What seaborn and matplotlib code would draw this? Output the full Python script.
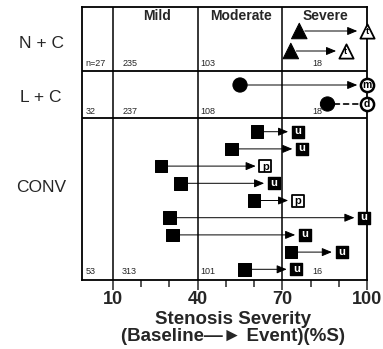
import numpy as np
import pandas as pd
import seaborn as sns
import matplotlib.pyplot as plt

# lesion progression per patient: baseline stenosis -> stenosis at event (%S)
group = ['N + C', 'N + C', 'L + C', 'L + C'] + ['CONV'] * 9
baseline = [76, 73, 55, 86, 61, 52, 27, 34, 60, 30, 31, 73, 56.5]
event = [100, 92.5, 100, 100, 75.5, 77, 64, 67, 75.5, 99, 78, 91, 75]
outcome = ['t', 't', 'm', 'd', 'u', 'u', 'p', 'u', 'p', 'u', 'u', 'u', 'u']

# lesion counts per severity band
count_groups = ['N + C', 'L + C', 'CONV']
n_patients = ['n=27', '32', '53']
n_mild = [235, 237, 313]
n_moderate = [103, 108, 101]
n_severe = [18, 18, 16]

severity_labels = ['Mild', 'Moderate', 'Severe']

# layout (vertical positions, top-down)
band_edges = [7, 71, 118, 280]
row_y = [31, 51, 85, 104] + [131.7 + 17.2 * i for i in range(9)]
label_y = [43, 98, 187]
count_y = [63, 112, 272]

df = pd.DataFrame({'group': group, 'baseline': baseline, 'event': event,
                   'outcome': outcome, 'y': row_y})

sns.set_style('white')
plt.rcParams['font.family'] = ['Liberation Sans', 'DejaVu Sans']

fig = plt.figure(figsize=(3.83, 3.49), dpi=100)
ax = fig.add_axes([82 / 383, 1 - 280 / 349, (367 - 82) / 383, (280 - 7) / 349])

marker_map = {'N + C': '^', 'L + C': 'o', 'CONV': 's'}
size_map = {'N + C': 125, 'L + C': 105, 'CONV': 82}

# arrows baseline -> event
for _, r in df.iterrows():
    if r.outcome == 'd':
        ax.annotate('', xy=(r.event, r.y), xytext=(r.baseline, r.y),
                    arrowprops=dict(arrowstyle='-', color='black', lw=1.2,
                                    linestyle=(0, (3, 2.5)), shrinkA=5, shrinkB=5),
                    annotation_clip=False)
    else:
        ax.annotate('', xy=(r.event, r.y), xytext=(r.baseline, r.y),
                    arrowprops=dict(arrowstyle='-|>,head_length=0.6,head_width=0.25',
                                    color='black', lw=0.7, shrinkA=4, shrinkB=7),
                    annotation_clip=False)

# baseline markers
sns.scatterplot(data=df, x='baseline', y='y', style='group', markers=marker_map,
                size='group', sizes=size_map, color='black', edgecolor='black',
                legend=False, ax=ax, zorder=5, clip_on=False)

# event markers with outcome letters
for _, r in df.iterrows():
    if r.group == 'CONV':
        if r.outcome == 'p':
            ax.scatter(r.event, r.y, marker='s', s=72, facecolor='white',
                       edgecolor='black', linewidth=1.3, zorder=6, clip_on=False)
            ax.text(r.event, r.y + 0.5, r.outcome, ha='center', va='center',
                    fontsize=8, fontweight='bold', color='black', zorder=7)
        else:
            ax.scatter(r.event, r.y, marker='s', s=78, color='black',
                       zorder=6, clip_on=False)
            ax.text(r.event, r.y - 0.5, r.outcome, ha='center', va='center',
                    fontsize=8, fontweight='bold', color='white', zorder=7)
    elif r.group == 'L + C':
        ax.scatter(r.event, r.y, marker='o', s=90, facecolor='white',
                   edgecolor='black', linewidth=1.8, zorder=6, clip_on=False)
        ax.text(r.event, r.y, r.outcome, ha='center', va='center',
                fontsize=7.5, fontweight='bold', color='black', zorder=7)
    else:
        ax.scatter(r.event, r.y, marker='^', s=105, facecolor='white',
                   edgecolor='black', linewidth=1.3, zorder=6, clip_on=False)
        ax.text(r.event, r.y + 1, r.outcome, ha='center', va='center',
                fontsize=6.5, fontweight='bold', color='black', zorder=7)

# grid of severity bands
for xv in [10, 40, 70]:
    ax.axvline(xv, color='black', lw=1.1, zorder=1)
for yv in band_edges[1:-1]:
    ax.axhline(yv, color='black', lw=1.3, zorder=1)

# header
for lab, xc in zip(severity_labels, [25.6, 55.5, 85.4]):
    ax.text(xc, 16, lab, ha='center', va='center', fontsize=10, fontweight='bold')

# counts and group labels
for i, g in enumerate(count_groups):
    cy = count_y[i]
    ax.text(0.2, cy, n_patients[i], ha='left', va='center', fontsize=6.5)
    ax.text(13.2, cy, str(n_mild[i]), ha='left', va='center', fontsize=6.5)
    ax.text(40.8, cy, str(n_moderate[i]), ha='left', va='center', fontsize=6.5)
    ax.text(80.6, cy, str(n_severe[i]), ha='left', va='center', fontsize=6.5)
    ax.text(-15.5, label_y[i], g, ha='center', va='center', fontsize=12.5,
            clip_on=False)

ax.set_xlim(-1, 100)
ax.set_ylim(band_edges[-1], band_edges[0])
ax.set_yticks([])
ax.set_xticks([10, 40, 70, 100])
ax.set_xticks([20, 30, 50, 60, 80, 90], minor=True)
ax.set_xticklabels(['10', '40', '70', '100'], fontsize=13, fontweight='bold')
ax.tick_params(axis='x', which='major', direction='out', length=7, width=1.1,
               bottom=True, pad=1)
ax.tick_params(axis='x', which='minor', direction='out', length=5, width=1.1,
               bottom=True)
for s in ax.spines.values():
    s.set_color('black')
    s.set_linewidth(1.3)
ax.set_ylabel('')
ax.set_xlabel('Stenosis Severity\n(Baseline\u2014\u25ba Event)(%S)',
              fontsize=13.5, fontweight='bold', linespacing=1.0)
ax.xaxis.set_label_coords(0.53, -0.113, transform=ax.transAxes)
ax.xaxis.label.set_va('top')

fig.savefig('out.png', dpi=100)
